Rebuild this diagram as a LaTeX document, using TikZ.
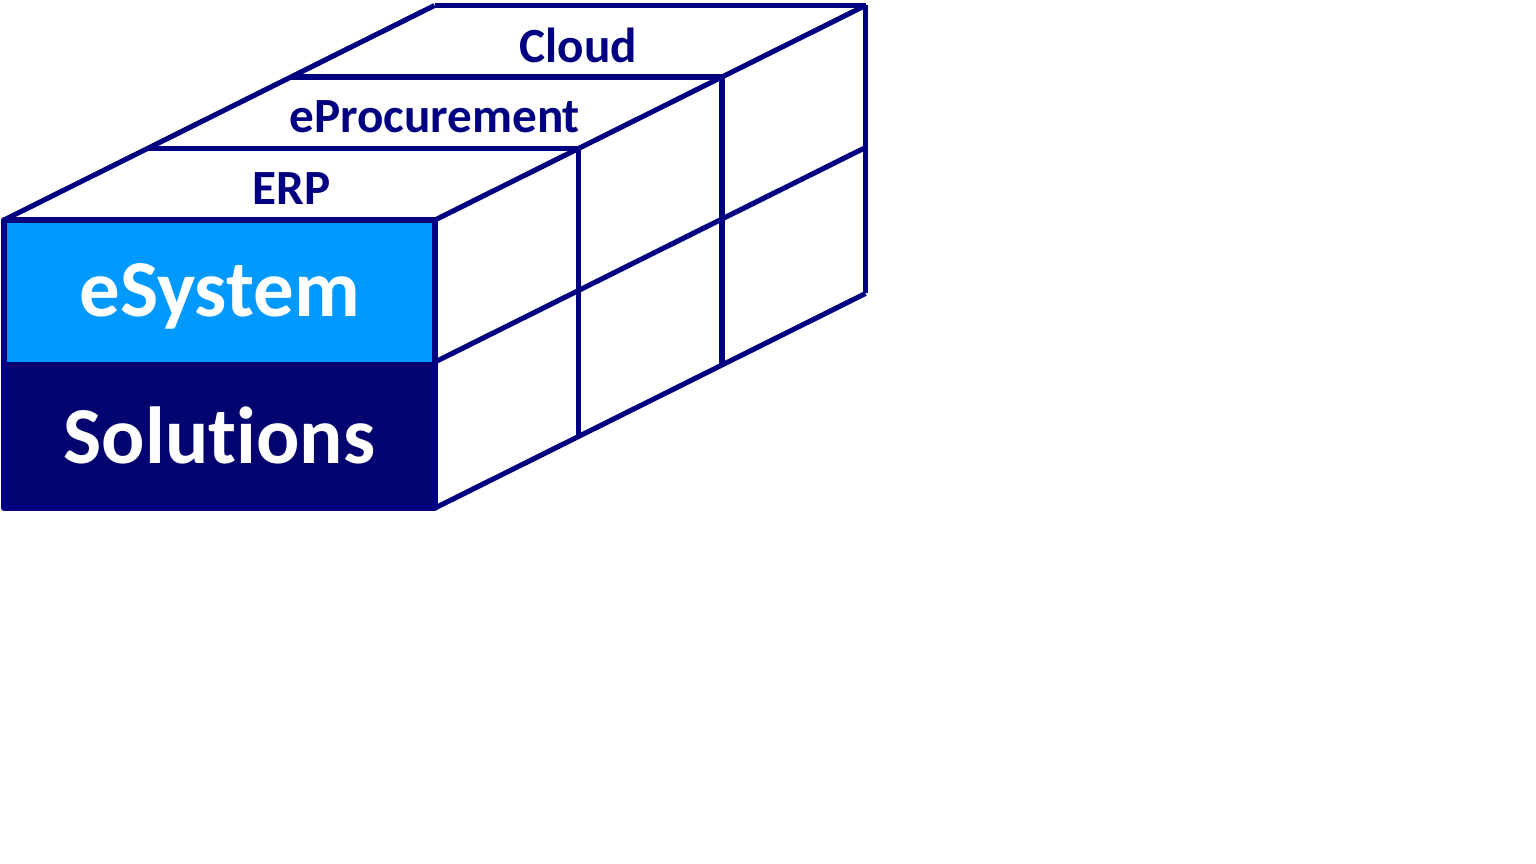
\documentclass[tikz,border=0pt]{standalone}
\usepackage{fontspec}
\setmainfont{Carlito}[RawFeature=-liga]
\usetikzlibrary{calc}
\definecolor{boxnavy}{RGB}{0,0,128}
\definecolor{skyblue}{RGB}{0,153,255}
\definecolor{deepnavy}{RGB}{4,4,112}

\begin{document}
\begin{tikzpicture}[x=0.02cm, y=-0.02cm,
  edge/.style={draw=boxnavy, line width=2.9pt, line join=round},
  toplabel/.style={font=\bfseries\fontsize{28}{30}\selectfont, text=boxnavy},
  frontlabel/.style={font=\bfseries\fontsize{46}{48}\selectfont, text=white},
]
\useasboundingbox (0,0) rectangle (1536,864);

% front face corners and depth step
\coordinate (ftl) at (4,220);
\coordinate (ftr) at (435,220);
\coordinate (fml) at (4,362);
\coordinate (fmr) at (435,362);
\coordinate (fbl) at (4,508);
\coordinate (fbr) at (435,508);
\coordinate (d) at (143.5,-71.5);

% front face
\fill[skyblue] (ftl) rectangle (fmr);
\fill[deepnavy] (fml) rectangle (fbr);
\node[frontlabel] (sys) at ($(ftl)!0.5!(fmr)+(0,5)$) {eSystem};
\node[frontlabel] (sol) at ($(fml)!0.5!(fbr)$) {Solutions};

% top layers
\foreach \i/\name/\txt in {1/erp/ERP, 2/eproc/eProcurement, 3/cloud/Cloud} {
  \draw[edge] ($(ftl)+\i*(d)$) -- ($(ftr)+\i*(d)$);
  \node[toplabel] (\name) at ($(ftl)!0.5!(ftr)+\i*(d)-0.5*(d)+(0,4)$) {\txt};
}

% side verticals
\foreach \i in {1,2,3}
  \draw[edge] ($(ftr)+\i*(d)$) -- ($(fbr)+\i*(d)$);

% outline
\draw[edge] (ftl) rectangle (fbr);
\draw[edge] (ftl) -- ($(ftl)+3*(d)$);
\draw[edge] (ftr) -- ($(ftr)+3*(d)$);
\draw[edge] (fmr) -- ($(fmr)+3*(d)$);
\draw[edge] (fbr) -- ($(fbr)+3*(d)$);
\end{tikzpicture}
\end{document}
